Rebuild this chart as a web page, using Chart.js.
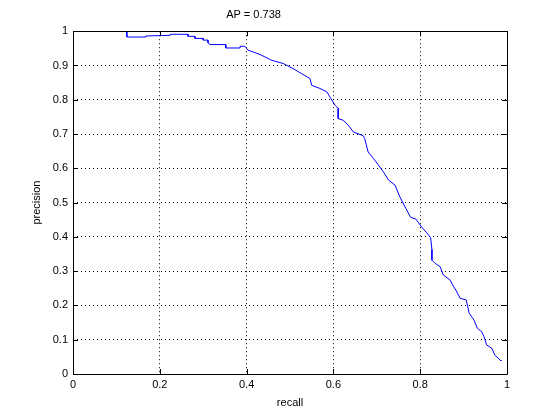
<!DOCTYPE html>
<html lang="en">
<head>
    <meta charset="UTF-8">
    <title>AP = 0.738</title>
    <style>
        body {
            margin: 0;
            background-color: #fff;
        }
        canvas {
            display: block;
        }
    </style>
</head>
<body>
    <canvas id="prChart" width="560" height="420"></canvas>

    <script src="https://cdn.jsdelivr.net/npm/chart.js"></script>
    <script>
        // precision / recall curve
        const recall = [
            0.124, 0.124, 0.168, 0.168, 0.224, 0.224, 0.265, 0.265, 0.281, 0.281,
            0.300, 0.300, 0.311, 0.311, 0.316, 0.352, 0.352, 0.385, 0.385, 0.396,
            0.403, 0.431, 0.458, 0.484, 0.507, 0.527, 0.546, 0.550, 0.569, 0.585,
            0.594, 0.604, 0.611, 0.611, 0.623, 0.634, 0.646, 0.669, 0.672, 0.680,
            0.692, 0.703, 0.715, 0.727, 0.742, 0.753, 0.767, 0.778, 0.790, 0.803,
            0.815, 0.824, 0.827, 0.827, 0.834, 0.846, 0.853, 0.869, 0.875, 0.882,
            0.892, 0.906, 0.913, 0.924, 0.932, 0.942, 0.947, 0.953, 0.965, 0.972,
            0.984, 0.986
        ];
        const precision = [
            1.000, 0.983, 0.983, 0.986, 0.988, 0.991, 0.991, 0.985, 0.985, 0.979,
            0.979, 0.974, 0.974, 0.966, 0.961, 0.961, 0.951, 0.951, 0.956, 0.956,
            0.945, 0.932, 0.915, 0.906, 0.891, 0.876, 0.862, 0.842, 0.833, 0.823,
            0.804, 0.784, 0.775, 0.745, 0.740, 0.726, 0.706, 0.695, 0.687, 0.648,
            0.629, 0.611, 0.590, 0.566, 0.551, 0.517, 0.483, 0.457, 0.452, 0.429,
            0.412, 0.398, 0.363, 0.332, 0.323, 0.313, 0.289, 0.274, 0.259, 0.245,
            0.221, 0.216, 0.177, 0.157, 0.133, 0.123, 0.109, 0.085, 0.075, 0.055,
            0.041, 0.038
        ];
        const xTicks = [0, 0.2, 0.4, 0.6, 0.8, 1];
        const yTicks = [0, 0.1, 0.2, 0.3, 0.4, 0.5, 0.6, 0.7, 0.8, 0.9, 1];
        const titleText = 'AP = 0.738';

        const fontFamily = '"Liberation Sans", Arial, Helvetica, sans-serif';
        const fmt = v => String(Number(v.toFixed(2)));

        // matlab style box with inward ticks
        const axesBox = {
            id: 'axesBox',
            afterDraw(chart) {
                const { ctx, chartArea: a, scales } = chart;
                ctx.save();
                ctx.strokeStyle = '#000';
                ctx.lineWidth = 1;
                ctx.setLineDash([]);
                ctx.beginPath();
                ctx.rect(Math.round(a.left) + 0.5, Math.round(a.top) + 0.5,
                    Math.round(a.right - a.left), Math.round(a.bottom - a.top));
                xTicks.forEach(v => {
                    const x = Math.round(scales.x.getPixelForValue(v)) + 0.5;
                    ctx.moveTo(x, a.bottom); ctx.lineTo(x, a.bottom - 5);
                    ctx.moveTo(x, a.top); ctx.lineTo(x, a.top + 5);
                });
                yTicks.forEach(v => {
                    const y = Math.round(scales.y.getPixelForValue(v)) + 0.5;
                    ctx.moveTo(a.left, y); ctx.lineTo(a.left + 5, y);
                    ctx.moveTo(a.right, y); ctx.lineTo(a.right - 5, y);
                });
                ctx.stroke();
                ctx.restore();
            }
        };

        const ctx = document.getElementById('prChart').getContext('2d');
        new Chart(ctx, {
            type: 'line',
            data: {
                datasets: [{
                    data: recall.map((r, i) => ({ x: r, y: precision[i] })),
                    borderColor: '#0000ff',
                    borderWidth: 1,
                    pointRadius: 0,
                    fill: false,
                    tension: 0
                }]
            },
            options: {
                responsive: false,
                animation: false,
                layout: {
                    padding: { left: 0, right: 53, top: 0, bottom: 0 }
                },
                scales: {
                    x: {
                        type: 'linear',
                        min: 0,
                        max: 1,
                        afterBuildTicks: scale => { scale.ticks = xTicks.map(v => ({ value: v })); },
                        afterFit: scale => { scale.height = 46; },
                        ticks: {
                            color: '#000',
                            padding: 4,
                            maxRotation: 0,
                            font: { family: fontFamily, size: 11 },
                            callback: v => fmt(v)
                        },
                        grid: {
                            color: '#000',
                            drawTicks: false
                        },
                        border: { display: false, dash: [1, 3] },
                        title: {
                            display: true,
                            text: 'recall',
                            color: '#000',
                            padding: 10,
                            font: { family: fontFamily, size: 11 }
                        }
                    },
                    y: {
                        type: 'linear',
                        min: 0,
                        max: 1,
                        afterBuildTicks: scale => { scale.ticks = yTicks.map(v => ({ value: v })); },
                        afterFit: scale => { scale.width = 73; },
                        ticks: {
                            color: '#000',
                            padding: 5,
                            font: { family: fontFamily, size: 11 },
                            callback: v => fmt(v)
                        },
                        grid: {
                            color: '#000',
                            drawTicks: false
                        },
                        border: { display: false, dash: [1, 3] },
                        title: {
                            display: true,
                            text: 'precision',
                            color: '#000',
                            padding: 30,
                            font: { family: fontFamily, size: 11 }
                        }
                    }
                },
                plugins: {
                    legend: { display: false },
                    tooltip: { enabled: false },
                    title: {
                        display: true,
                        text: titleText,
                        color: '#000',
                        padding: { top: 8, bottom: 10 },
                        font: { family: fontFamily, size: 11, weight: 'normal' }
                    }
                }
            },
            plugins: [axesBox]
        });
    </script>
</body>
</html>
